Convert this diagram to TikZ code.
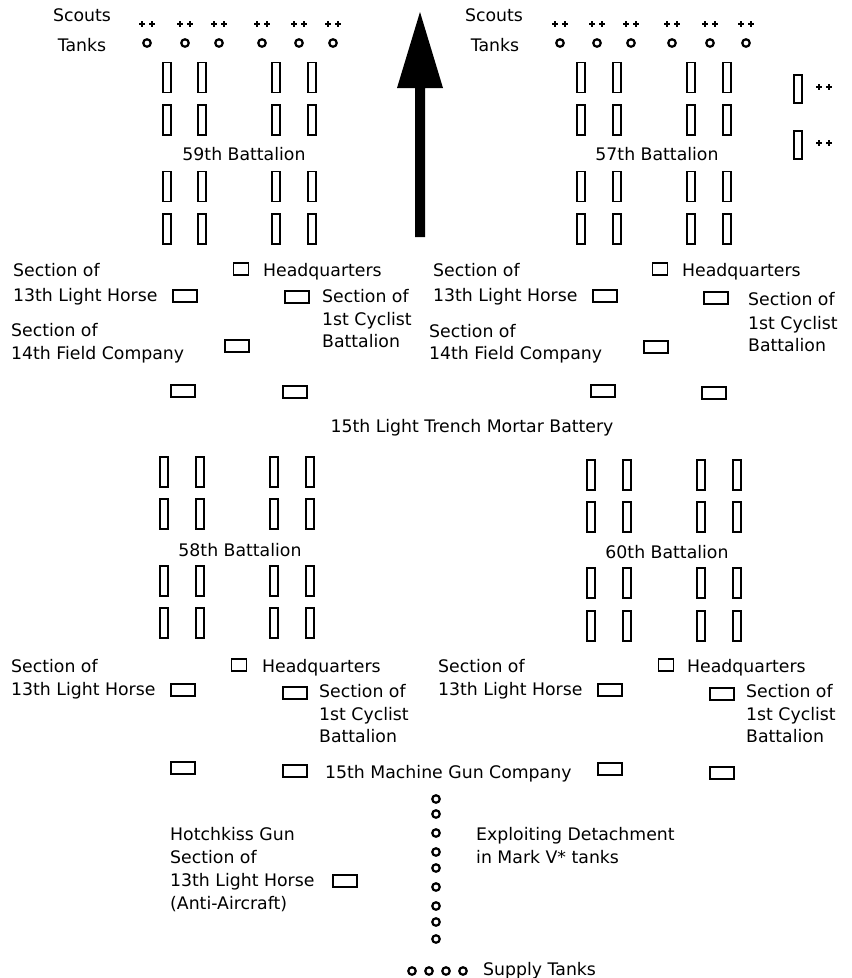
\documentclass[tikz,border=0pt]{standalone}
\usepackage{fontspec}
\setmainfont{DejaVu Sans}
\newcommand{\labelfont}{\fontsize{17.3}{21}\selectfont}

\tikzset{
  lbl/.style={font=\labelfont, inner sep=0pt, text height=13pt, text depth=3pt, anchor=west},
  troop/.style={draw, line width=1.8pt, minimum width=8pt, minimum height=30pt, inner sep=0pt},
  unitbox/.style={draw, line width=1.8pt, minimum width=24.5pt, minimum height=12.5pt, inner sep=0pt},
  hqbox/.style={draw, line width=1.8pt, minimum width=15pt, minimum height=12pt, inner sep=0pt},
  tank/.style={circle, draw, line width=2.2pt, minimum size=7.5pt, inner sep=0pt},
  scoutpair/.pic={
    \draw[line width=1.8pt] (-8,0) -- (-2,0) (-5,-3) -- (-5,3)
      (2,0) -- (8,0) (5,-3) -- (5,3);
  }
}

\begin{document}
\begin{tikzpicture}[x=1pt, y=-1pt]
  \useasboundingbox (0,0) rectangle (852,978);

  % direction of advance
  \fill (420,12) -- (443,88) -- (425,88) -- (425,237) -- (415,237)
    -- (415,88) -- (397,88) -- cycle;

  % scouts and tanks in front
  \node[lbl, anchor=center] (scoutsL) at (82,16) {Scouts};
  \node[lbl, anchor=center] (tanksL) at (82,46) {Tanks};
  \node[lbl, anchor=center] (scoutsR) at (494,16) {Scouts};
  \node[lbl, anchor=center] (tanksR) at (495,46) {Tanks};
  \foreach \tx [count=\i] in {147,185,219,262,299,333} {
    \pic at (\tx,24) {scoutpair};
    \node[tank] (tankL-\i) at (\tx,43) {};
  }
  \foreach \tx [count=\i] in {560,597,631,672,710,746} {
    \pic at (\tx,24) {scoutpair};
    \node[tank] (tankR-\i) at (\tx,43) {};
  }
  \node[troop, minimum height=28pt] (flank-1) at (798,89) {};
  \node[troop, minimum height=28pt] (flank-2) at (798,145) {};
  \pic at (824,87) {scoutpair};
  \pic at (824,143) {scoutpair};

  % battalions
  \foreach \cx [count=\i] in {167,202,276,312}
    \foreach \ry [count=\j] in {77.5,120,186.5,229}
      \node[troop] (b59-\i\j) at (\cx,\ry) {};
  \node[lbl, anchor=center] (b59) at (244,155) {59th Battalion};
  \foreach \cx [count=\i] in {581,617,691,727}
    \foreach \ry [count=\j] in {77.5,120,186.5,229}
      \node[troop] (b57-\i\j) at (\cx,\ry) {};
  \node[lbl, anchor=center] (b57) at (657,155) {57th Battalion};
  \foreach \cx [count=\i] in {164,200,274,310}
    \foreach \ry [count=\j] in {472,514,581,623}
      \node[troop] (b58-\i\j) at (\cx,\ry) {};
  \node[lbl, anchor=center] (b58) at (240,551) {58th Battalion};
  \foreach \cx [count=\i] in {591,627,701,737}
    \foreach \ry [count=\j] in {475,517,583,626}
      \node[troop] (b60-\i\j) at (\cx,\ry) {};
  \node[lbl, anchor=center] (b60) at (667,553) {60th Battalion};

  % upper left detachments
  \node[lbl] (ulLH1) at (13,271) {Section of};
  \node[lbl] (ulLH2) at (13,296) {13th Light Horse};
  \node[unitbox] (ulLHbox) at (185,296) {};
  \node[hqbox] (ulHQ) at (241,269) {};
  \node[lbl] (ulHQtext) at (263,271) {Headquarters};
  \node[unitbox] (ulCYbox) at (297,297) {};
  \node[lbl] (ulCY1) at (322,297) {Section of};
  \node[lbl] (ulCY2) at (322,320) {1st Cyclist};
  \node[lbl] (ulCY3) at (322,342) {Battalion};
  \node[lbl] (ulFC1) at (11,331) {Section of};
  \node[lbl] (ulFC2) at (11,354) {14th Field Company};
  \node[unitbox] (ulFCbox) at (237,346) {};
  \node[unitbox] (ulTM1) at (183,391) {};
  \node[unitbox] (ulTM2) at (295,392) {};

  % upper right detachments
  \node[lbl] (urLH1) at (433,271) {Section of};
  \node[lbl] (urLH2) at (433,296) {13th Light Horse};
  \node[unitbox] (urLHbox) at (605,296) {};
  \node[hqbox] (urHQ) at (660,269) {};
  \node[lbl] (urHQtext) at (682,271) {Headquarters};
  \node[unitbox] (urCYbox) at (716,298) {};
  \node[lbl] (urCY1) at (748,300) {Section of};
  \node[lbl] (urCY2) at (748,324) {1st Cyclist};
  \node[lbl] (urCY3) at (748,346) {Battalion};
  \node[lbl] (urFC1) at (429,332) {Section of};
  \node[lbl] (urFC2) at (429,354) {14th Field Company};
  \node[unitbox] (urFCbox) at (656,347) {};
  \node[unitbox] (urTM1) at (603,391) {};
  \node[unitbox] (urTM2) at (714,393) {};

  \node[lbl, anchor=center] (tmb) at (472,427) {15th Light Trench Mortar Battery};

  % lower left detachments
  \node[lbl] (llLH1) at (11,667) {Section of};
  \node[lbl] (llLH2) at (11,690) {13th Light Horse};
  \node[unitbox] (llLHbox) at (183,690) {};
  \node[hqbox] (llHQ) at (239,665) {};
  \node[lbl] (llHQtext) at (262,667) {Headquarters};
  \node[unitbox] (llCYbox) at (295,693) {};
  \node[lbl] (llCY1) at (319,692) {Section of};
  \node[lbl] (llCY2) at (319,715) {1st Cyclist};
  \node[lbl] (llCY3) at (319,737) {Battalion};
  \node[unitbox] (llMG1) at (183,768) {};
  \node[unitbox] (llMG2) at (295,771) {};

  % lower right detachments
  \node[lbl] (lrLH1) at (438,667) {Section of};
  \node[lbl] (lrLH2) at (438,690) {13th Light Horse};
  \node[unitbox] (lrLHbox) at (610,690) {};
  \node[hqbox] (lrHQ) at (666,665) {};
  \node[lbl] (lrHQtext) at (687,667) {Headquarters};
  \node[unitbox] (lrCYbox) at (722,694) {};
  \node[lbl] (lrCY1) at (746,692) {Section of};
  \node[lbl] (lrCY2) at (746,715) {1st Cyclist};
  \node[lbl] (lrCY3) at (746,737) {Battalion};
  \node[unitbox] (lrMG1) at (610,769) {};
  \node[unitbox] (lrMG2) at (722,773) {};

  \node[lbl] (mgc) at (325,773) {15th Machine Gun Company};

  % anti-aircraft section
  \node[lbl] (aa1) at (170,835) {Hotchkiss Gun};
  \node[lbl] (aa2) at (170,858) {Section of};
  \node[lbl] (aa3) at (170,881) {13th Light Horse};
  \node[lbl] (aa4) at (170,904) {(Anti-Aircraft)};
  \node[unitbox] (aabox) at (345,881) {};

  % exploiting detachment and supply
  \foreach \ty [count=\i] in {799,814,833,852,868,887,906,922,939}
    \node[tank] (expl-\i) at (436,\ty) {};
  \node[lbl] (expl1) at (476,835) {Exploiting Detachment};
  \node[lbl] (expl2) at (476,858) {in Mark V* tanks};
  \foreach \tx [count=\i] in {412,429,446,463}
    \node[tank] (supply-\i) at (\tx,971) {};
  \node[lbl] (supply) at (483,970) {Supply Tanks};
\end{tikzpicture}
\end{document}
